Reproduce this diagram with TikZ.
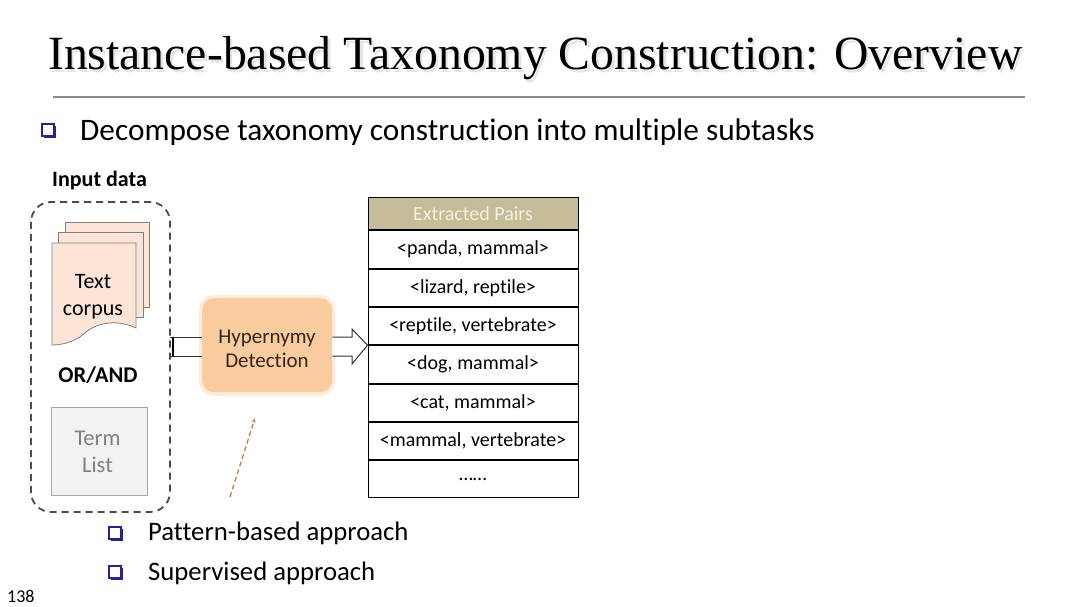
\documentclass[tikz,border=0pt]{standalone}
\usepackage{fontspec}
\setmainfont{Carlito}[Ligatures=CommonOff]
\newfontfamily\titlefont{Liberation Serif}
\usetikzlibrary{calc,arrows.meta}
\definecolor{navyq}{RGB}{35,35,160}
\definecolor{peach}{RGB}{252,229,214}
\definecolor{pagegray}{RGB}{128,128,128}
\definecolor{hypfill}{RGB}{249,204,160}
\definecolor{hypglow}{RGB}{253,236,220}
\definecolor{hyptext}{RGB}{60,35,20}
\definecolor{olive}{RGB}{196,189,151}
\definecolor{headtext}{RGB}{242,240,225}
\definecolor{termfill}{RGB}{242,242,242}
\definecolor{termdraw}{RGB}{166,166,166}
\definecolor{termtext}{RGB}{128,128,128}
\definecolor{dashbrown}{RGB}{190,130,70}
\newcommand\fs[1]{\fontsize{#1}{#1}\selectfont}
\newcommand\fsl[2]{\fontsize{#1}{#2}\selectfont}
\tikzset{
  qbullet/.pic={
    \fill[navyq] (2,2) rectangle (14,14);
    \filldraw[fill=white,draw=navyq,line width=1.2] (0,0) rectangle (12,12);
  },
  page/.style={fill=peach,draw=pagegray,line width=0.8},
  rowcell/.style={draw=black,line width=1,minimum width=210,minimum height=37.3,inner sep=0,font=\fs{20},anchor=north west},
  label/.style={inner sep=0,align=center},
  blockarrow/.style={draw=black!80,fill=white,line width=1},
}
\begin{document}
\begin{tikzpicture}[x=1pt,y=-1pt]
\useasboundingbox (0,0) rectangle (1080,607);
\fill[white] (0,0) rectangle (1080,607);

% title with soft shadow
\node[anchor=base west,inner sep=0,text=black!10,font=\titlefont\fs{47.7}] (titleshadow) at (50.5,72.5) {Instance-based Taxonomy Construction: Overview};
\node[anchor=base west,inner sep=0,font=\titlefont\fs{47.7}] (title) at (48,70) {Instance-based Taxonomy Construction: Overview};
\draw[black!45,line width=1.5] (53,97) -- (1025,97);

% main bullet
\pic at (42,124) {qbullet};
\node[anchor=base west,inner sep=0,font=\fs{31.3}] (decomp) at (80,141) {Decompose taxonomy construction into multiple subtasks};

% input data group
\node[anchor=base,inner sep=0,font=\bfseries\fs{22}] (inputlbl) at (99.5,187) {Input data};
\draw[black!70,line width=1.8,dash pattern=on 7pt off 5pt,rounded corners=20] (31,202) rectangle (170,512);
\node[inner sep=0,minimum width=139,minimum height=310,anchor=north west] (inputbox) at (31,202) {};

% text corpus pages
\filldraw[page] (65,222) rectangle (149,307);
\filldraw[page] (58,232) rectangle (143,317);
\filldraw[page] (52,243) -- (136,243) -- (136,328) .. controls (115,318) and (95,324) .. (85,333) .. controls (75,342) and (62,345) .. (52,345) -- cycle;
\node[anchor=base,inner sep=0,font=\fs{22}] (corpus1) at (93,288) {Text};
\node[anchor=base,inner sep=0,font=\fs{22}] (corpus2) at (93,315) {corpus};

\node[anchor=base,inner sep=0,font=\bfseries\fs{22.5}] (orand) at (98,382) {OR/AND};

\node[draw=termdraw,fill=termfill,line width=1,minimum width=96,minimum height=88,anchor=north west,inner sep=0] (termbox) at (51,407) {};
\node[anchor=base,inner sep=0,font=\fs{22.5},text=termtext] (term1) at (97.5,445) {Term};
\node[anchor=base,inner sep=0,font=\fs{22.5},text=termtext] (term2) at (97.5,472) {List};

% hypernymy detection
\fill[hypglow,rounded corners=15] (199,295) rectangle (335,396);
\node[fill=hypfill,rounded corners=12,minimum width=130,minimum height=94,anchor=north west,inner sep=0] (hyp) at (202,298) {};
\node[anchor=base,inner sep=0,font=\fs{21},text=hyptext] (hyptxt1) at (267,343) {Hypernymy};
\node[anchor=base,inner sep=0,font=\fs{21},text=hyptext] (hyptxt2) at (267,367) {Detection};

% arrow input -> hyp
\draw[black!80,line width=1] (inputbox.east |- 0,337) -- (hyp.west |- 0,337);
\draw[black!80,line width=1] (inputbox.east |- 0,356) -- (hyp.west |- 0,356);
\draw[black,line width=2.5] ($(inputbox.east |- 0,337)+(2.5,0)$) -- ($(inputbox.east |- 0,356)+(2.5,0)$);

% table
\node[rowcell,fill=olive,text=headtext,minimum height=32.6,font=\fs{20}] (r0) at (367.5,196.7) {Extracted Pairs};
\node[rowcell] (r1) at (r0.south west) {<panda, mammal>};
\node[rowcell] (r2) at (r1.south west) {<lizard, reptile>};
\node[rowcell] (r3) at (r2.south west) {<reptile, vertebrate>};
\node[rowcell] (r4) at (r3.south west) {<dog,\ mammal>};
\node[rowcell] (r5) at (r4.south west) {<cat, mammal>};
\node[rowcell] (r6) at (r5.south west) {<mammal, vertebrate>};
\node[rowcell] (r7) at (r6.south west) {……};

% arrow hyp -> table
\draw[blockarrow] (hyp.east |- 0,337) -- (352,337) -- (352,329) -- (r3.south west) -- (352,364) -- (352,356) -- (hyp.east |- 0,356);

% dashed pointer
\coordinate (dstart) at (230,497);
\coordinate (dend) at (255,418);
\draw[dashbrown,line width=1.3,dash pattern=on 5pt off 3pt,-{Stealth[length=5pt,width=4pt]}] (dstart) -- (dend);

% sub bullets
\pic at (109,527) {qbullet};
\node[anchor=base west,inner sep=0,font=\fs{26.7}] (pattern) at (148,540) {Pattern-based approach};
\pic at (109,566) {qbullet};
\node[anchor=base west,inner sep=0,font=\fs{26.7}] (superv) at (148,580) {Supervised approach};

\node[anchor=base west,inner sep=0,font=\fs{18}] (pagenum) at (7,602) {138};
\end{tikzpicture}
\end{document}
